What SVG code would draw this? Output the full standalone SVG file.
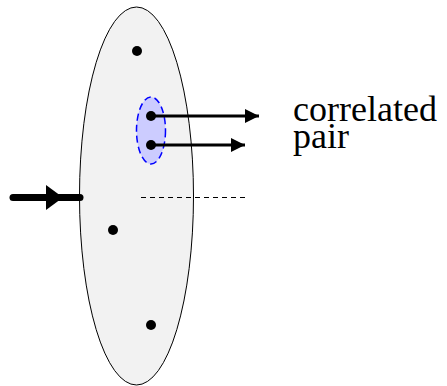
<svg xmlns="http://www.w3.org/2000/svg" width="447" height="386" viewBox="0 0 447 386">
<style>
.dot{fill:#000}
.arr{stroke:#000;stroke-width:3;fill:none}
</style>
<defs>
<marker id="ah" markerUnits="userSpaceOnUse" markerWidth="16" markerHeight="14" refX="14" refY="7" orient="auto"><path d="M0,0 L14,7 L0,14 Z" fill="#000"/></marker>
</defs>
<g id="plane"><ellipse cx="136.5" cy="196" rx="57" ry="189" fill="#f2f2f2" stroke="#000" stroke-width="1"/></g>
<g id="pair-region"><ellipse cx="151" cy="130.5" rx="14.5" ry="33.5" fill="#ccccff" stroke="#0000ff" stroke-width="1.5" stroke-dasharray="7,4"/></g>
<g id="dots">
<circle class="dot" cx="137" cy="51" r="5"/>
<circle class="dot" cx="151" cy="116" r="5"/>
<circle class="dot" cx="151" cy="145" r="5"/>
<circle class="dot" cx="113" cy="230" r="5"/>
<circle class="dot" cx="151" cy="325" r="5"/>
</g>
<g id="connectors">
<line class="arr" x1="151" y1="116" x2="259" y2="116" marker-end="url(#ah)"/>
<line class="arr" x1="151" y1="145" x2="245" y2="145" marker-end="url(#ah)"/>
<line x1="141" y1="197.5" x2="246" y2="197.5" stroke="#000" stroke-width="1" stroke-dasharray="5,4"/>
<line x1="13" y1="197.5" x2="80" y2="197.5" stroke="#000" stroke-width="7" stroke-linecap="round"/>
<path d="M46,185 L63,197.5 L46,210 Z" fill="#000"/>
</g>
<g id="label">
<text font-family="Liberation Serif, DejaVu Serif, serif" font-size="36" fill="#000"><tspan x="293" y="121">correlated</tspan><tspan x="293" y="148">pair</tspan></text>
</g>
</svg>
